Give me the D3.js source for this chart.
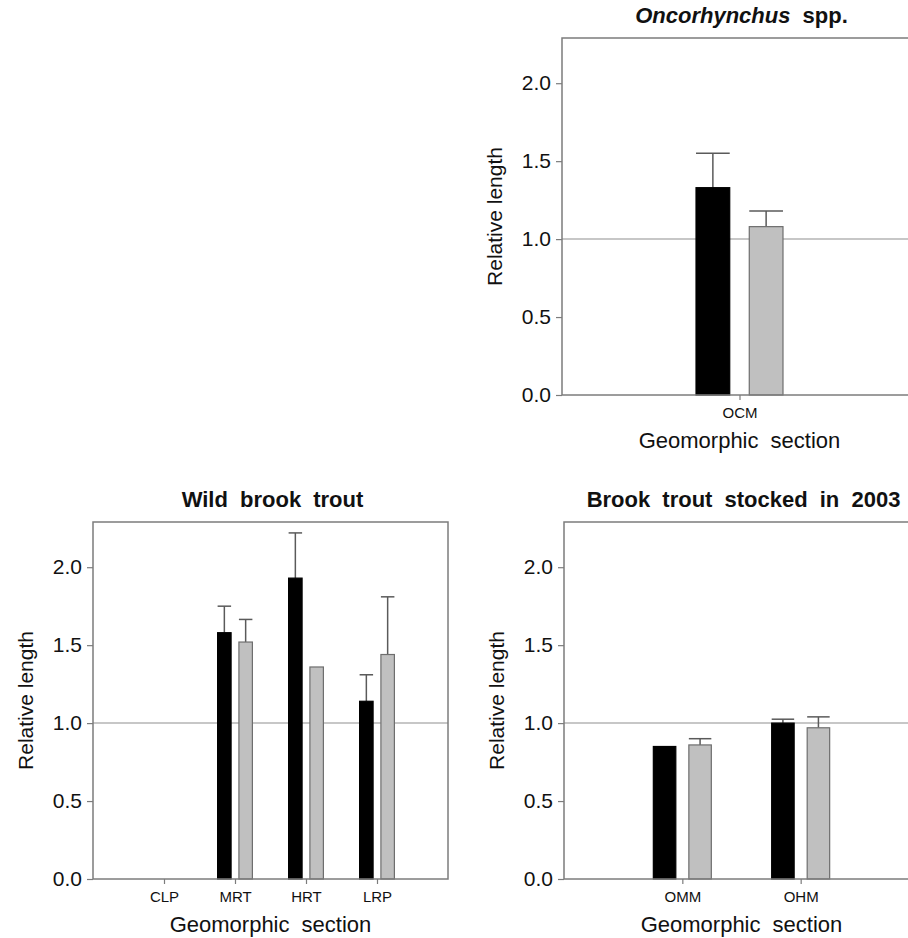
<!DOCTYPE html>
<html>
<head>
<meta charset="utf-8">
<script src="https://cdn.jsdelivr.net/npm/d3@7"></script>
<style>
  body { margin: 0; background: #fff; }
  svg { font-family: "Liberation Sans", Arial, sans-serif; display: block; }
</style>
</head>
<body>
<svg id="chart" width="908" height="938"></svg>
<script>
// series: black = first bar, gray = second bar of each section
const series = ["black", "gray"];
const yTicks = [0, 0.5, 1.0, 1.5, 2.0];

const oncSections = ["OCM"];
const oncBlack = [1.33];
const oncBlackErr = [0.22];
const oncGray = [1.08];
const oncGrayErr = [0.10];

const wildSections = ["CLP", "MRT", "HRT", "LRP"];
const wildBlack = [null, 1.58, 1.93, 1.14];
const wildBlackErr = [null, 0.17, 0.29, 0.17];
const wildGray = [null, 1.52, 1.36, 1.44];
const wildGrayErr = [null, 0.145, null, 0.37];

const stockSections = ["OMM", "OHM"];
const stockBlack = [0.85, 1.00];
const stockBlackErr = [null, 0.025];
const stockGray = [0.86, 0.97];
const stockGrayErr = [0.04, 0.07];

const svg = d3.select("#chart");
const iwidth = 355, iheight = 357;

function drawPanel(left, top, title, sections, black, blackErr, gray, grayErr) {
  const g = svg.append("g").attr("transform", `translate(${left},${top})`);

  const y = d3.scaleLinear().domain([0, 2.29]).range([iheight, 0]);
  const x = d3.scalePoint().domain(sections).range([0, iwidth]).padding(1);
  const step = iwidth / (sections.length + 1);
  const xs = d3.scaleBand().domain(series)
    .range([-0.245 * step, 0.245 * step])
    .paddingInner(0.367).paddingOuter(0);

  const rows = [];
  sections.forEach((s, i) => {
    rows.push({ s, k: "black", v: black[i], e: blackErr[i] });
    rows.push({ s, k: "gray", v: gray[i], e: grayErr[i] });
  });
  const data = rows.filter(d => d.v != null);

  // reference line at 1.0
  g.append("line")
    .attr("x1", 0).attr("x2", iwidth)
    .attr("y1", y(1)).attr("y2", y(1))
    .attr("stroke", "#b4b4b4").attr("stroke-width", 1.5);

  // error bars (upper only)
  const eb = g.selectAll(".err").data(data.filter(d => d.e != null)).enter().append("g")
    .attr("stroke", "#5a5a5a").attr("stroke-width", 1.5);
  eb.append("line")
    .attr("x1", d => x(d.s) + xs(d.k) + xs.bandwidth() / 2)
    .attr("x2", d => x(d.s) + xs(d.k) + xs.bandwidth() / 2)
    .attr("y1", d => y(d.v)).attr("y2", d => y(d.v + d.e));
  eb.append("line")
    .attr("x1", d => x(d.s) + xs(d.k))
    .attr("x2", d => x(d.s) + xs(d.k) + xs.bandwidth())
    .attr("y1", d => y(d.v + d.e)).attr("y2", d => y(d.v + d.e));

  g.selectAll("rect.bar").data(data).enter().append("rect")
    .attr("class", "bar")
    .attr("x", d => x(d.s) + xs(d.k))
    .attr("y", d => y(d.v))
    .attr("width", xs.bandwidth())
    .attr("height", d => iheight - y(d.v))
    .attr("fill", d => d.k === "black" ? "#000" : "#c0c0c0")
    .attr("stroke", d => d.k === "black" ? "#000" : "#6e6e6e")
    .attr("stroke-width", 1.2);

  // frame
  g.append("rect")
    .attr("x", 0).attr("y", 0).attr("width", iwidth).attr("height", iheight)
    .attr("fill", "none").attr("stroke", "#7c7c7c").attr("stroke-width", 1.5);

  const ya = g.append("g")
    .call(d3.axisLeft(y).tickValues(yTicks).tickFormat(d3.format(".1f")).tickSize(6).tickPadding(5));
  ya.select(".domain").remove();
  ya.selectAll("line").attr("stroke", "#7c7c7c").attr("stroke-width", 1.2);
  ya.selectAll("text").attr("font-size", 21).attr("fill", "#111").style("font-family", "Liberation Sans, Arial, sans-serif");

  const xa = g.append("g").attr("transform", `translate(0,${iheight})`)
    .call(d3.axisBottom(x).tickSize(5).tickPadding(7));
  xa.select(".domain").remove();
  xa.selectAll("line").attr("stroke", "#7c7c7c").attr("stroke-width", 1.2);
  xa.selectAll("text").attr("font-size", 15).attr("fill", "#111").style("font-family", "Liberation Sans, Arial, sans-serif");

  g.append("text")
    .attr("transform", `translate(-60,${iheight / 2}) rotate(-90)`)
    .attr("text-anchor", "middle")
    .attr("font-size", 21).attr("fill", "#111")
    .text("Relative length");

  g.append("text")
    .attr("x", iwidth / 2).attr("y", iheight + 53)
    .attr("text-anchor", "middle")
    .attr("font-size", 22).attr("fill", "#111")
    .attr("word-spacing", 6)
    .text("Geomorphic section");

  const t = g.append("text")
    .attr("x", iwidth / 2 + 2).attr("y", -15)
    .attr("text-anchor", "middle")
    .attr("font-size", 22).attr("font-weight", "bold").attr("fill", "#111")
    .attr("word-spacing", 6);
  title.forEach(p => t.append("tspan").attr("font-style", p.italic ? "italic" : "normal").text(p.text));
}

drawPanel(562, 38, [{ text: "Oncorhynchus", italic: true }, { text: " spp." }],
  oncSections, oncBlack, oncBlackErr, oncGray, oncGrayErr);
drawPanel(93, 522, [{ text: "Wild brook trout" }],
  wildSections, wildBlack, wildBlackErr, wildGray, wildGrayErr);
drawPanel(564, 522, [{ text: "Brook trout stocked in 2003" }],
  stockSections, stockBlack, stockBlackErr, stockGray, stockGrayErr);
</script>
</body>
</html>
